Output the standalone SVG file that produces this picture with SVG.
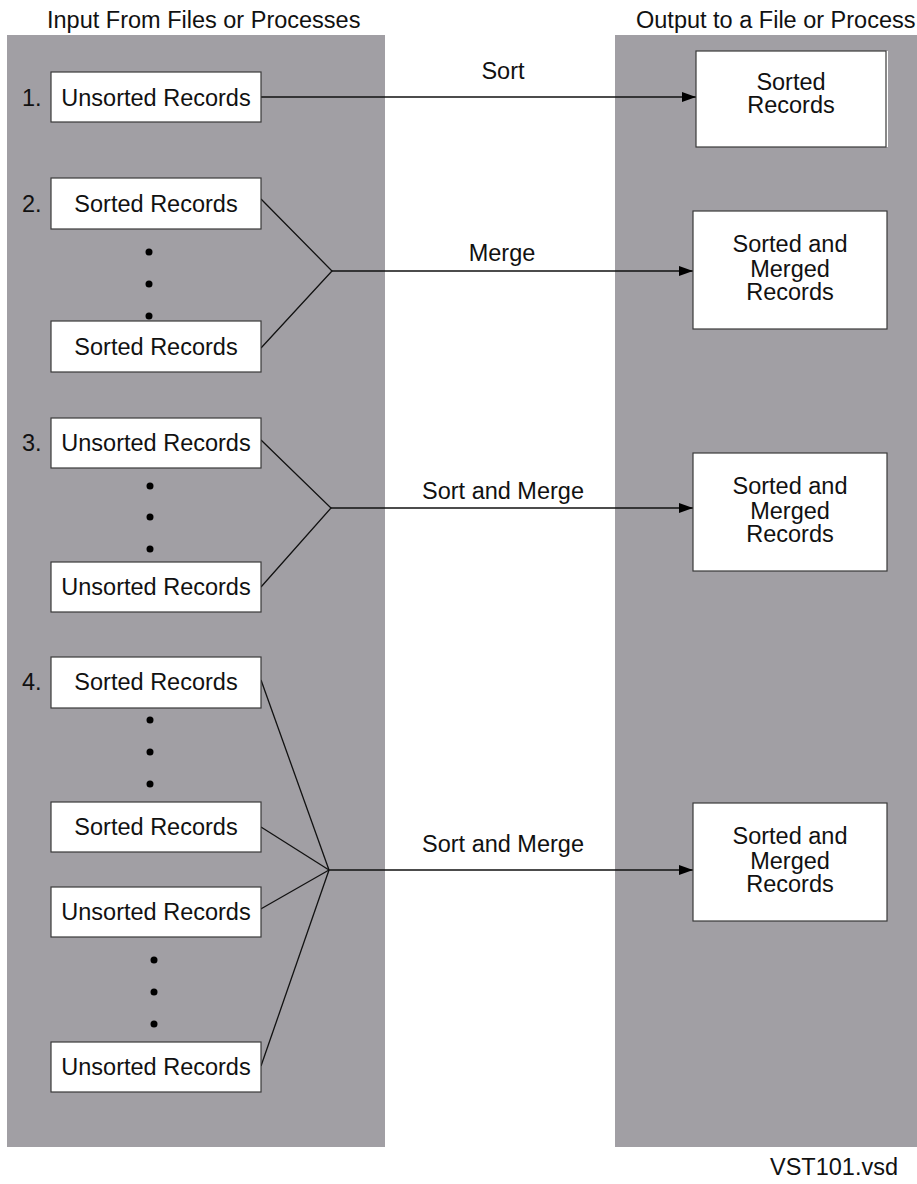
<svg xmlns="http://www.w3.org/2000/svg" width="917" height="1184" viewBox="0 0 917 1184">
  <style>
    .panel { fill: #a19fa4; }
    .box { fill: #ffffff; stroke: #3a3a3a; stroke-width: 1.2; }
    .t { font-family: "Liberation Sans", Arial, sans-serif; font-size: 23.5px; fill: #111; }
    .c { text-anchor: middle; }
    .link { fill: none; stroke: #111; stroke-width: 1.3; }
    .dot { fill: #000; }
  </style>
  <defs>
    <marker id="arrow" viewBox="0 0 14 10" refX="14" refY="5" markerWidth="14" markerHeight="10" markerUnits="userSpaceOnUse" orient="auto">
      <path d="M0,0 L14,5 L0,10 Z" fill="#000"/>
    </marker>
  </defs>

  <rect width="917" height="1184" fill="#ffffff"/>

  <!-- column backgrounds -->
  <rect class="panel" x="7" y="35" width="378" height="1112"/>
  <rect class="panel" x="615" y="35" width="302" height="1112"/>

  <text class="t" x="47" y="28">Input From Files or Processes</text>
  <text class="t" x="636" y="28">Output to a File or Process</text>

  <!-- connectors -->
  <g id="connectors">
    <line class="link" x1="261" y1="97" x2="696" y2="97" marker-end="url(#arrow)"/>

    <polyline class="link" points="261,199 332,271 261,348"/>
    <line class="link" x1="332" y1="271" x2="693" y2="271" marker-end="url(#arrow)"/>

    <polyline class="link" points="261,440 331,508 261,587"/>
    <line class="link" x1="331" y1="508" x2="693" y2="508" marker-end="url(#arrow)"/>

    <line class="link" x1="261" y1="680" x2="329" y2="870"/>
    <line class="link" x1="261" y1="827" x2="329" y2="870"/>
    <line class="link" x1="259" y1="910" x2="329" y2="870"/>
    <line class="link" x1="261" y1="1066" x2="329" y2="870"/>
    <line class="link" x1="329" y1="870" x2="693" y2="870" marker-end="url(#arrow)"/>

    <text class="t c" x="503" y="79">Sort</text>
    <text class="t c" x="502" y="261">Merge</text>
    <text class="t c" x="503" y="499">Sort and Merge</text>
    <text class="t c" x="503" y="852">Sort and Merge</text>
  </g>

  <!-- case 1 -->
  <g id="case1-in">
    <text class="t" x="22" y="106">1.</text>
    <rect class="box" x="51" y="72" width="210" height="50"/>
    <text class="t c" x="156" y="106">Unsorted Records</text>
  </g>
  <g id="case1-out">
    <rect x="696" y="51" width="192" height="96" fill="#ffffff"/>
    <rect class="box" x="696" y="51" width="190" height="96"/>
    <text class="t c" x="791" y="90">Sorted</text>
    <text class="t c" x="791" y="113">Records</text>
  </g>

  <!-- case 2 -->
  <g id="case2-in">
    <text class="t" x="22" y="212">2.</text>
    <rect class="box" x="51" y="178" width="210" height="51"/>
    <text class="t c" x="156" y="212">Sorted Records</text>
    <circle class="dot" cx="149" cy="252" r="3.5"/>
    <circle class="dot" cx="149" cy="284" r="3.5"/>
    <circle class="dot" cx="149" cy="316" r="3.5"/>
    <rect class="box" x="51" y="321" width="210" height="51"/>
    <text class="t c" x="156" y="355">Sorted Records</text>
  </g>
  <g id="case2-out">
    <rect class="box" x="693" y="211" width="194" height="118"/>
    <text class="t c" x="790" y="252">Sorted and</text>
    <text class="t c" x="790" y="277">Merged</text>
    <text class="t c" x="790" y="300">Records</text>
  </g>

  <!-- case 3 -->
  <g id="case3-in">
    <text class="t" x="22" y="451">3.</text>
    <rect class="box" x="51" y="418" width="210" height="50"/>
    <text class="t c" x="156" y="451">Unsorted Records</text>
    <circle class="dot" cx="150" cy="486" r="3.5"/>
    <circle class="dot" cx="150" cy="517" r="3.5"/>
    <circle class="dot" cx="150" cy="549" r="3.5"/>
    <rect class="box" x="51" y="562" width="210" height="50"/>
    <text class="t c" x="156" y="595">Unsorted Records</text>
  </g>
  <g id="case3-out">
    <rect class="box" x="693" y="453" width="194" height="118"/>
    <text class="t c" x="790" y="494">Sorted and</text>
    <text class="t c" x="790" y="519">Merged</text>
    <text class="t c" x="790" y="542">Records</text>
  </g>

  <!-- case 4 -->
  <g id="case4-in">
    <text class="t" x="22" y="690">4.</text>
    <rect class="box" x="51" y="657" width="210" height="51"/>
    <text class="t c" x="156" y="690">Sorted Records</text>
    <circle class="dot" cx="150" cy="720" r="3.5"/>
    <circle class="dot" cx="150" cy="752" r="3.5"/>
    <circle class="dot" cx="150" cy="784" r="3.5"/>
    <rect class="box" x="51" y="802" width="210" height="50"/>
    <text class="t c" x="156" y="835">Sorted Records</text>
    <rect class="box" x="51" y="887" width="210" height="50"/>
    <text class="t c" x="156" y="920">Unsorted Records</text>
    <circle class="dot" cx="154" cy="960" r="3.5"/>
    <circle class="dot" cx="154" cy="992" r="3.5"/>
    <circle class="dot" cx="154" cy="1024" r="3.5"/>
    <rect class="box" x="51" y="1042" width="210" height="50"/>
    <text class="t c" x="156" y="1075">Unsorted Records</text>
  </g>
  <g id="case4-out">
    <rect class="box" x="693" y="803" width="194" height="118"/>
    <text class="t c" x="790" y="844">Sorted and</text>
    <text class="t c" x="790" y="869">Merged</text>
    <text class="t c" x="790" y="892">Records</text>
  </g>

  <text class="t" x="770" y="1175">VST101.vsd</text>
</svg>
